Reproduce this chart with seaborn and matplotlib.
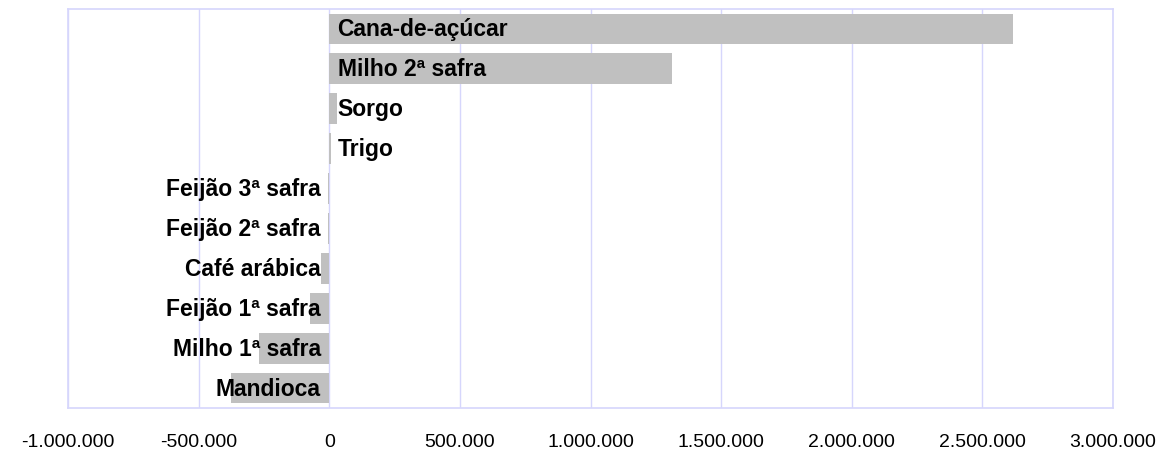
import matplotlib
matplotlib.use("Agg")
import matplotlib.pyplot as plt
import seaborn as sns
import pandas as pd

culturas = ["Cana-de-açúcar", "Milho 2ª safra", "Sorgo", "Trigo",
            "Feijão 3ª safra", "Feijão 2ª safra", "Café arábica",
            "Feijão 1ª safra", "Milho 1ª safra", "Mandioca"]
variacao = [2618000, 1313000, 28000, 6000, -5000, -5000, -31000,
            -73000, -268000, -376000]
xticks = [-1000000, -500000, 0, 500000, 1000000, 1500000, 2000000, 2500000, 3000000]

df = pd.DataFrame({"cultura": culturas, "valor": variacao})

sns.set_style("white")
plt.rcParams["font.family"] = ["Liberation Sans", "DejaVu Sans"]

fig = plt.figure(figsize=(11.65, 4.52), dpi=100)
ax = fig.add_axes([68/1165, 1 - 409/452, (1113-68)/1165, (409-10)/452])

sns.barplot(data=df, x="valor", y="cultura", orient="h", color="#c0c0c0",
            saturation=1, width=0.77, edgecolor="none", ax=ax, zorder=2)

ax.set_xlim(-1000000, 3000000)
ax.set_ylim(len(culturas) - 0.5, -0.5)
ax.set_xticks(xticks)
ax.set_xticklabels([f"{v:,.0f}".replace(",", ".") for v in xticks],
                   fontsize=14, color="black")
ax.tick_params(axis="x", length=0, pad=18)
ax.set_yticks([])
ax.set_xlabel("")
ax.set_ylabel("")

grid_color = "#d6d6fc"
for v in xticks:
    ax.axvline(v, color=grid_color, lw=1, zorder=1)
for s in ax.spines.values():
    s.set_color(grid_color)
    s.set_linewidth(1.2)

for i, (nome, v) in enumerate(zip(culturas, variacao)):
    if v >= 0:
        ax.annotate(nome, (0, i), xytext=(6, 0), textcoords="offset points",
                    ha="left", va="center", fontsize=16.5, fontweight="bold",
                    color="black", zorder=3)
    else:
        ax.annotate(nome, (0, i), xytext=(-6, 0), textcoords="offset points",
                    ha="right", va="center", fontsize=16.5, fontweight="bold",
                    color="black", zorder=3)

fig.savefig("out.png", dpi=100)
